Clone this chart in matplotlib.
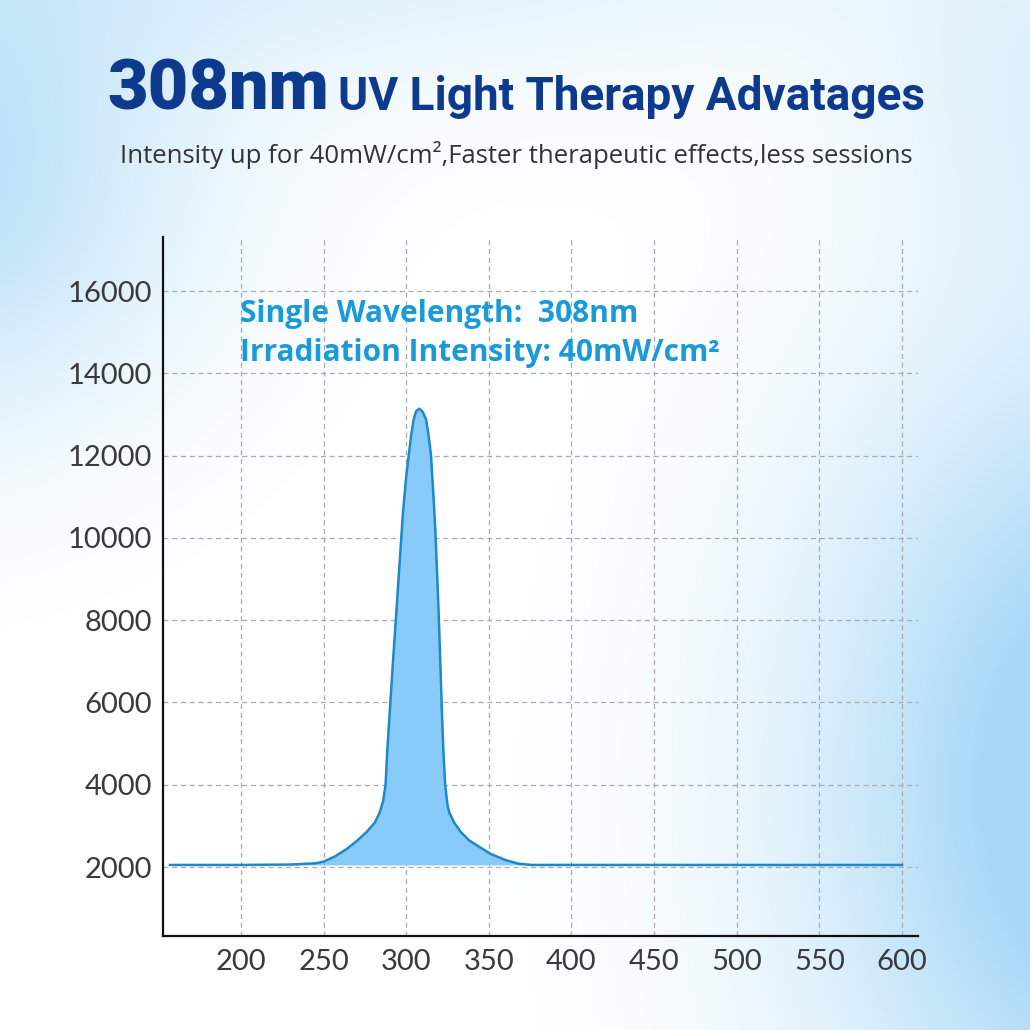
import numpy as np
import matplotlib
matplotlib.use("Agg")
import matplotlib.pyplot as plt

# spectrum (wavelength nm, intensity)
wavelength = [157, 200, 230, 245, 250, 257, 264, 270, 276, 281, 284, 286, 287.5, 288.5,
              290, 292, 294, 296, 298, 300, 301.5, 303, 304.5, 306, 308, 310, 312, 313.5,
              315, 316.5, 317.6, 318.6, 319.6, 320.6, 321.6, 322.6, 323.6, 325, 326, 329,
              333, 338, 343, 351, 360, 368, 376, 400, 600]
intensity = [2050, 2050, 2060, 2090, 2130, 2260, 2440, 2630, 2850, 3080, 3330, 3600, 4000, 4800,
             5760, 7000, 8190, 9400, 10600, 11500, 12000, 12500, 12880, 13080, 13140, 13060, 12880, 12500,
             12000, 11000, 10200, 9200, 8190, 7000, 5760, 4700, 3980, 3500, 3330, 3080,
             2850, 2650, 2520, 2320, 2170, 2080, 2050, 2050, 2050]

x_ticks = [200, 250, 300, 350, 400, 450, 500, 550, 600]
y_ticks = [2000, 4000, 6000, 8000, 10000, 12000, 14000, 16000]

title_big = "308nm"
title_rest = "UV Light Therapy Advatages"
subtitle = "Intensity up for 40mW/cm\u00b2,Faster therapeutic effects,less sessions"
note_lines = ["Single Wavelength:  308nm", "Irradiation Intensity: 40mW/cm\u00b2"]

fig = plt.figure(figsize=(10.3, 10.3), dpi=100)

# soft blue background
H = W = 1030
yy, xx = np.mgrid[0:H, 0:W]
def blob(cx, cy, sx, sy):
    return np.exp(-(((xx - cx) / sx) ** 2 + ((yy - cy) / sy) ** 2))
a = (blob(-80, 180, 260, 240) * 0.8 + blob(1140, 790, 310, 430) * 1.3
     + blob(300, -80, 600, 160) * 0.4 + blob(1080, 80, 200, 200) * 0.3)
a = np.clip(a, 0, 1)[..., None]
blue = np.array([0.66, 0.85, 0.97])
bg_img = (1 - a) * np.ones(3) + a * blue
bg = fig.add_axes([0, 0, 1, 1], zorder=-10)
bg.imshow(bg_img, aspect="auto", extent=[0, 1, 0, 1])
bg.axis("off")

ax = fig.add_axes([163 / 1030, 1 - 936 / 1030, (918 - 163) / 1030, (936 - 237) / 1030])
ax.patch.set_alpha(0)

base = intensity[0]
ax.fill_between(wavelength, intensity, base, color="#88CBF8", linewidth=0, zorder=2)
ax.plot(wavelength, intensity, color="#1E88C8", linewidth=1.8, zorder=3)

ax.set_xlim(152.8, 609.7)
ax.set_ylim(323, 17313)
ax.set_xticks(x_ticks)
ax.set_yticks(y_ticks)
ax.grid(True, color="#AAAAAA", linestyle=(0, (4, 3)), linewidth=0.9, zorder=1)
ax.set_axisbelow(True)
for s in ["top", "right"]:
    ax.spines[s].set_visible(False)
for s in ["left", "bottom"]:
    ax.spines[s].set_linewidth(1.6)
    ax.spines[s].set_color("#111111")
ax.tick_params(axis="both", length=0, labelsize=21, labelcolor="#3A3A3A")
ax.tick_params(axis="x", pad=9)
ax.tick_params(axis="y", pad=8)
for lab in ax.get_xticklabels() + ax.get_yticklabels():
    lab.set_family("Lato")

ax.text(199.5, 15440, note_lines[0], fontsize=21.5, fontweight="bold", family="Open Sans",
        color="#1A9AD9", va="center", ha="left")
ax.text(199.5, 14495, note_lines[1], fontsize=21.5, fontweight="bold", family="Open Sans",
        color="#1A9AD9", va="center", ha="left")

fig.text(107 / 1030, 1 - 110 / 1030, title_big, fontsize=50.5, fontweight="heavy",
         family="Roboto", color="#0D3A8C", ha="left", va="baseline")
fig.text(338 / 1030, 1 - 110 / 1030, title_rest, fontsize=33, fontweight="bold",
         family="Roboto", color="#0D3A8C", ha="left", va="baseline")
fig.text(120 / 1030, 1 - 163 / 1030, subtitle, fontsize=18.5, family="Open Sans",
         color="#333333", ha="left", va="baseline")

fig.savefig("out.png", dpi=100)
